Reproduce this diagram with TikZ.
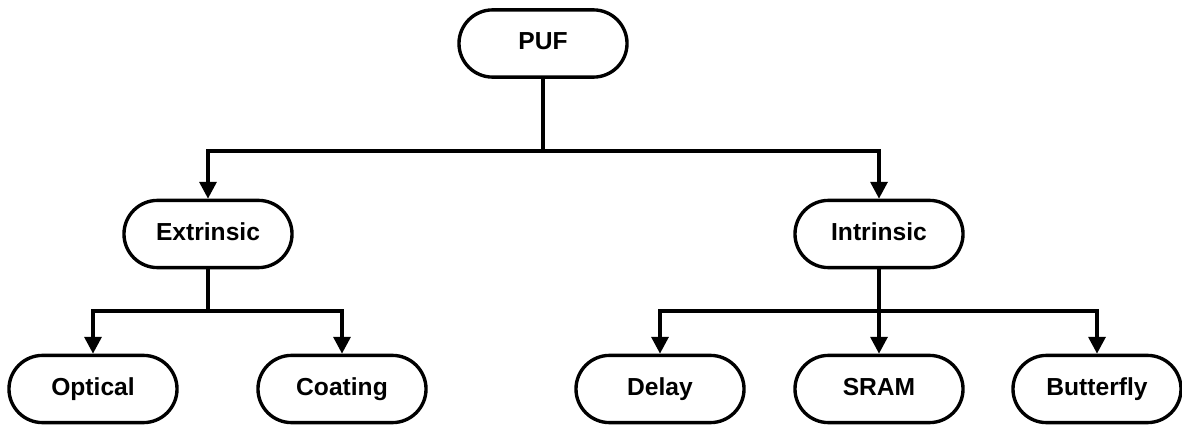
\documentclass[tikz,border=0pt]{standalone}
\usepackage{fontspec}
\setmainfont{Liberation Sans}
\usetikzlibrary{arrows.meta}
\begin{document}
\begin{tikzpicture}[x=0.025cm,y=-0.025cm,
  box/.style={draw=black,line width=2.4pt,rectangle,rounded corners=0.84cm,
    minimum width=4.2cm,minimum height=1.68cm,inner sep=0pt,
    text height=12.5pt,text depth=3.5pt,
    font=\fontsize{17.5}{20}\selectfont\bfseries},
  conn/.style={draw=black,line width=2.6pt},
  arr/.style={conn,-{Triangle[width=12pt,length=12pt]}}]
\useasboundingbox (0,0) rectangle (1182,426);
\node[box] (puf) at (543,43.5) {PUF};
\node[box] (ext) at (208,234) {Extrinsic};
\node[box] (int) at (879,234) {Intrinsic};
\node[box] (opt) at (93,389) {Optical};
\node[box] (coat) at (342,389) {Coating};
\node[box] (delay) at (660,389) {Delay};
\node[box] (sram) at (879,389) {SRAM};
\node[box] (butt) at (1097,389) {Butterfly};
\coordinate (b1) at (543,151);
\coordinate (b2) at (208,311);
\coordinate (b3) at (879,311);
\draw[conn] (puf.south) -- (b1);
\draw[arr] (b1) -| (ext.north);
\draw[arr] (b1) -| (int.north);
\draw[conn] (ext.south) -- (b2);
\draw[arr] (b2) -| (opt.north);
\draw[arr] (b2) -| (coat.north);
\draw[arr] (int.south) -- (sram.north);
\draw[arr] (b3) -| (delay.north);
\draw[arr] (b3) -| (butt.north);
\end{tikzpicture}
\end{document}
